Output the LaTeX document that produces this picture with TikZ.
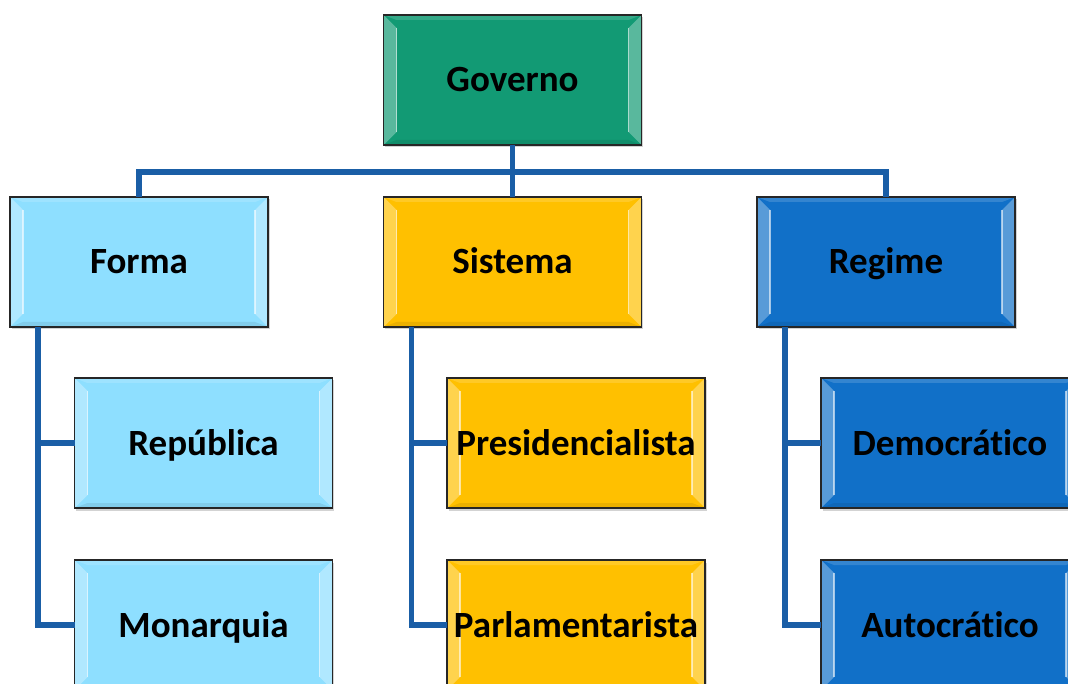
\documentclass[tikz,border=0pt]{standalone}
\usepackage{fontspec}
\setmainfont{Carlito}[Ligatures={NoCommon}]
\usetikzlibrary{shadows}

\definecolor{govgreen}{HTML}{129A74}
\definecolor{formablue}{HTML}{8EDFFF}
\definecolor{sistyellow}{HTML}{FFC000}
\definecolor{regblue}{HTML}{1170C8}
\definecolor{linkblue}{HTML}{1A5EA6}

\begin{document}
\begin{tikzpicture}[x=1pt,y=-1pt,
	box/.style={draw=black!85,line width=1.3pt,rectangle,inner sep=0,outer sep=0,
		minimum width=258pt,minimum height=130pt,text height=28pt,text depth=4pt,
		font=\fontsize{37}{44}\selectfont\bfseries,
		drop shadow={shadow xshift=1.5pt,shadow yshift=-2.5pt,opacity=.35},
		path picture={
			\fill[white,opacity=.3] (path picture bounding box.north west) -- (path picture bounding box.south west)
				-- ([shift={(13pt,13pt)}]path picture bounding box.south west) -- ([shift={(13pt,-13pt)}]path picture bounding box.north west) -- cycle;
			\fill[white,opacity=.3] (path picture bounding box.north east) -- (path picture bounding box.south east)
				-- ([shift={(-13pt,13pt)}]path picture bounding box.south east) -- ([shift={(-13pt,-13pt)}]path picture bounding box.north east) -- cycle;
			\fill[white,opacity=.15] (path picture bounding box.north west) -- (path picture bounding box.north east)
				-- ([shift={(-13pt,-5pt)}]path picture bounding box.north east) -- ([shift={(13pt,-5pt)}]path picture bounding box.north west) -- cycle;
			\fill[black,opacity=.08] (path picture bounding box.south west) -- (path picture bounding box.south east)
				-- ([shift={(-13pt,5pt)}]path picture bounding box.south east) -- ([shift={(13pt,5pt)}]path picture bounding box.south west) -- cycle;
			\draw[white,opacity=.6,line width=1.5pt] ([shift={(13pt,-13pt)}]path picture bounding box.north west) -- ([shift={(13pt,13pt)}]path picture bounding box.south west);
			\draw[white,opacity=.6,line width=1.5pt] ([shift={(-13pt,-13pt)}]path picture bounding box.north east) -- ([shift={(-13pt,13pt)}]path picture bounding box.south east);
		}},
	link/.style={draw=linkblue,line width=5.5pt}]
	\useasboundingbox (0,0) rectangle (1068,684);

	% top
	\node[box,fill=govgreen] (gov) at (512.5,80) {Governo};

	% second row
	\node[box,fill=formablue] (forma) at (139,262) {Forma};
	\node[box,fill=sistyellow] (sist) at (512.5,262) {Sistema};
	\node[box,fill=regblue] (reg) at (886,262) {Regime};

	% third and fourth rows
	\node[box,fill=formablue] (rep) at (203.5,443) {República};
	\node[box,fill=formablue] (mon) at (203.5,625) {Monarquia};
	\node[box,fill=sistyellow] (pres) at (576,443) {Presidencialista};
	\node[box,fill=sistyellow] (parl) at (576,625) {Parlamentarista};
	\node[box,fill=regblue] (dem) at (950,443) {Democrático};
	\node[box,fill=regblue] (aut) at (950,625) {Autocrático};

	% connectors
	\draw[link] (gov.south) -- (sist.north);
	\draw[link] (gov.south) ++(0,27) coordinate (bus) -| (forma.north);
	\draw[link] (bus) -| (reg.north);
	\draw[link] ([xshift=28pt]forma.south west) |- (rep.west);
	\draw[link] ([xshift=28pt]forma.south west) |- (mon.west);
	\draw[link] ([xshift=28pt]sist.south west) |- (pres.west);
	\draw[link] ([xshift=28pt]sist.south west) |- (parl.west);
	\draw[link] ([xshift=28pt]reg.south west) |- (dem.west);
	\draw[link] ([xshift=28pt]reg.south west) |- (aut.west);
\end{tikzpicture}
\end{document}
